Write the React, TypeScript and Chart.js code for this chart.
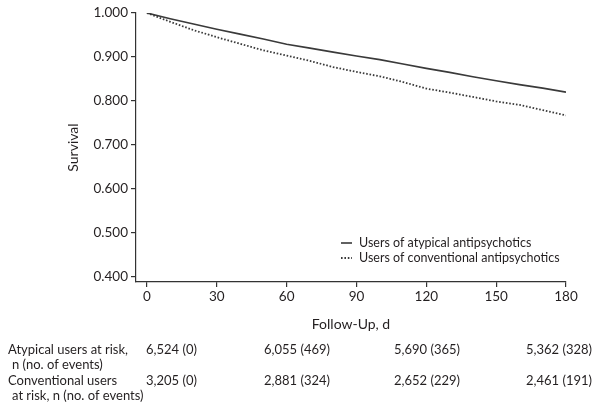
import React, { useEffect, useRef } from "react";
import { Chart, registerables } from "chart.js";

Chart.register(...registerables);

// ---- data ----
const days = [0, 10, 20, 30, 40, 50, 60, 70, 80, 90, 100, 110, 120, 130, 140, 150, 160, 170, 180];
const atypicalSurvival = [1.0, 0.987, 0.975, 0.963, 0.952, 0.941, 0.929, 0.92, 0.911, 0.902, 0.894, 0.884, 0.874, 0.865, 0.855, 0.846, 0.837, 0.829, 0.82];
const conventionalSurvival = [1.0, 0.98, 0.961, 0.945, 0.93, 0.915, 0.903, 0.891, 0.877, 0.866, 0.856, 0.843, 0.828, 0.819, 0.809, 0.799, 0.791, 0.779, 0.767];
const seriesLabels = ["Users of atypical antipsychotics", "Users of conventional antipsychotics"];
const xTicks = [0, 30, 60, 90, 120, 150, 180];
const yTicks = [0.4, 0.5, 0.6, 0.7, 0.8, 0.9, 1.0];
const xTitle = "Follow-Up, d";
const yTitle = "Survival";
const atypicalRowLabel = ["Atypical users at risk,", "n (no. of events)"];
const conventionalRowLabel = ["Conventional users", "at risk, n (no. of events)"];
const atypicalAtRisk = ["6,524 (0)", "6,055 (469)", "5,690 (365)", "5,362 (328)"];
const conventionalAtRisk = ["3,205 (0)", "2,881 (324)", "2,652 (229)", "2,461 (191)"];

// ---- layout / style ----
const FONT = "Lato, 'Open Sans', sans-serif";
const TEXT = "#231f20";
const LINE = "#333333";
const tableColX = [146, 264, 394, 526];
const tableRowY = [350, 381];
const tableLineGap = 15;

const legendPlugin = {
  id: "innerLegend",
  afterDraw(chart: any) {
    const { ctx } = chart;
    const x0 = 341;
    const ys = [243, 258];
    ctx.save();
    ctx.font = `12.5px ${FONT}`;
    ctx.fillStyle = TEXT;
    ctx.textBaseline = "middle";
    chart.data.datasets.forEach((ds: any, i: number) => {
      ctx.beginPath();
      ctx.strokeStyle = ds.borderColor;
      ctx.lineWidth = ds.borderWidth;
      ctx.setLineDash(ds.borderDash || []);
      ctx.moveTo(x0, ys[i]);
      ctx.lineTo(x0 + 11, ys[i]);
      ctx.stroke();
      ctx.setLineDash([]);
      ctx.fillText(ds.label, x0 + 18, ys[i]);
    });
    ctx.restore();
  },
};

const tablePlugin = {
  id: "atRiskTable",
  afterDraw(chart: any) {
    const { ctx } = chart;
    ctx.save();
    ctx.font = `13px ${FONT}`;
    ctx.fillStyle = TEXT;
    ctx.textBaseline = "middle";
    ctx.textAlign = "left";
    const rows = [
      { label: atypicalRowLabel, values: atypicalAtRisk },
      { label: conventionalRowLabel, values: conventionalAtRisk },
    ];
    rows.forEach((r, ri) => {
      const y = tableRowY[ri];
      r.label.forEach((t, li) => ctx.fillText(t, li === 0 ? 8 : 12, y + li * tableLineGap));
      r.values.forEach((v, ci) => ctx.fillText(v, tableColX[ci], y));
    });
    ctx.restore();
  },
};

export default function App() {
  const ref = useRef<HTMLCanvasElement | null>(null);
  useEffect(() => {
    document.body.style.margin = "0";
    const canvas = ref.current!;
    const chart = new Chart(canvas, {
      type: "line",
      data: {
        datasets: [
          {
            label: seriesLabels[0],
            data: days.map((d, i) => ({ x: d, y: atypicalSurvival[i] })),
            borderColor: "#3a3a3a",
            borderWidth: 1.6,
            pointRadius: 0,
            tension: 0,
            fill: false,
          },
          {
            label: seriesLabels[1],
            data: days.map((d, i) => ({ x: d, y: conventionalSurvival[i] })),
            borderColor: "#3a3a3a",
            borderWidth: 1.8,
            borderDash: [1.6, 1.8],
            pointRadius: 0,
            tension: 0,
            fill: false,
          },
        ],
      },
      options: {
        responsive: false,
        animation: false,
        events: [],
        layout: { padding: { left: 60, right: 38, top: 13, bottom: 71 } },
        plugins: { legend: { display: false }, tooltip: { enabled: false } },
        scales: {
          x: {
            type: "linear",
            min: -4.7,
            max: 180,
            afterBuildTicks: (s: any) => {
              s.ticks = xTicks.map((v) => ({ value: v }));
            },
            afterFit: (s: any) => {
              s.height = 55;
            },
            ticks: {
              font: { family: FONT, size: 13.5 },
              color: TEXT,
              padding: 2,
              maxRotation: 0,
              callback: (v: any) => String(v),
            },
            grid: { drawOnChartArea: false, drawTicks: true, tickLength: 5, color: LINE, lineWidth: 1.2 },
            border: { display: true, color: LINE, width: 1.2 },
            title: {
              display: true,
              text: xTitle,
              font: { family: FONT, size: 14 },
              color: TEXT,
              padding: { top: 0, bottom: 4 },
            },
          },
          y: {
            type: "linear",
            min: 0.388,
            max: 1.0,
            afterBuildTicks: (s: any) => {
              s.ticks = yTicks.map((v) => ({ value: v }));
            },
            afterFit: (s: any) => {
              s.width = 76;
            },
            ticks: {
              font: { family: FONT, size: 13.5 },
              color: TEXT,
              padding: 3,
              callback: (v: any) => Number(v).toFixed(3),
            },
            grid: { drawOnChartArea: false, drawTicks: true, tickLength: 5, color: LINE, lineWidth: 1.2 },
            border: { display: true, color: LINE, width: 1.2 },
            title: {
              display: true,
              text: yTitle,
              font: { family: FONT, size: 14 },
              color: TEXT,
              padding: { top: 5, bottom: 0 },
            },
          },
        },
      },
      plugins: [legendPlugin, tablePlugin],
    });
    return () => chart.destroy();
  }, []);
  return (
    <div style={{ position: "absolute", left: 0, top: 0, width: 604, height: 408, background: "#fff" }}>
      <canvas ref={ref} width={604} height={408} style={{ display: "block" }} />
    </div>
  );
}
